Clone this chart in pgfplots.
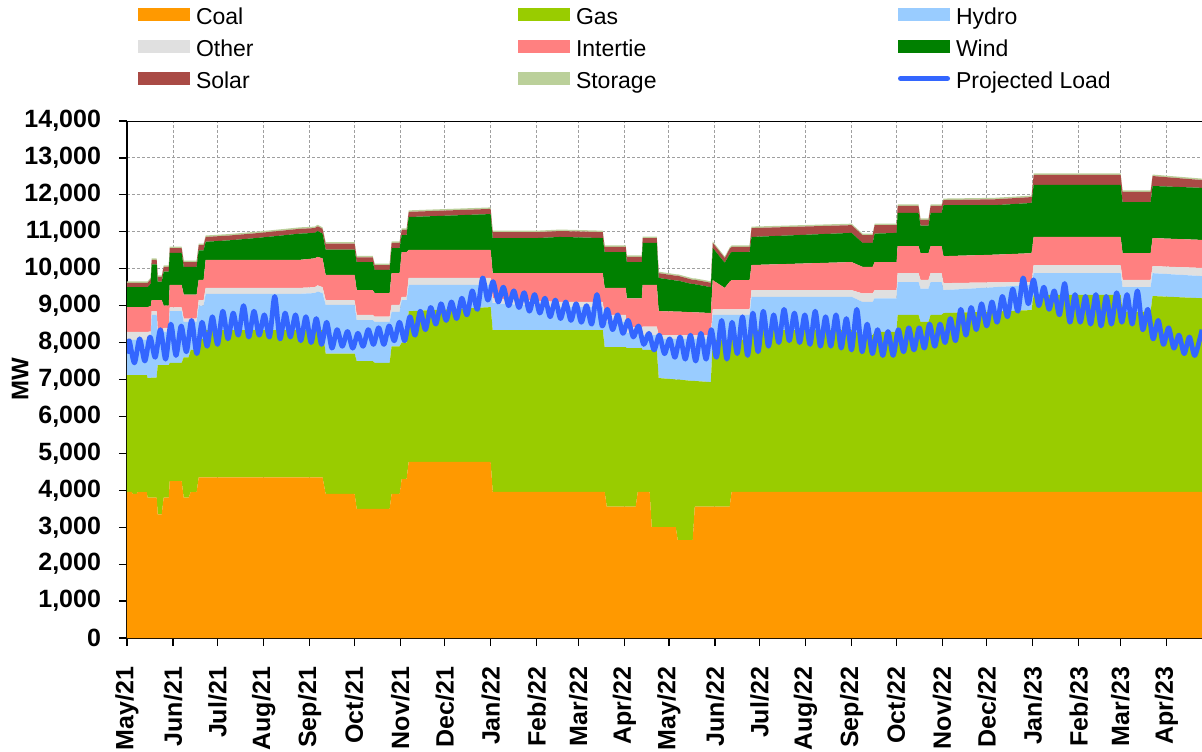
\documentclass[border=0pt]{standalone}
\usepackage{fontspec}
\setmainfont{Liberation Sans}
\usepackage{pgfplots}
\usepackage{pgfplotstable}
\pgfplotsset{compat=1.18}

\definecolor{coal}{HTML}{FF9900}
\definecolor{gas}{HTML}{99CC00}
\definecolor{hydro}{HTML}{99CCFF}
\definecolor{other}{HTML}{E0E0E0}
\definecolor{intertie}{HTML}{FF8080}
\definecolor{wind}{HTML}{008000}
\definecolor{solar}{HTML}{A94A45}
\definecolor{storage}{HTML}{BBD09A}
\definecolor{load}{HTML}{3366FF}

% cumulative tops of the stacked layers (MW), day 0 = 1 May 2021
\pgfplotstableread{
d     C    G    H    O     I     W     S     St
0.0   3960 7120 8070 8290  8960  9500  9620  40
3.2   3960 7120 8070 8290  8960  9500  9620  40
3.8   3900 7120 8070 8290  8960  9500  9620  40
6.5   3900 7120 8070 8290  8960  9500  9620  40
7.2   3950 7120 8070 8290  8960  9500  9620  40
13.3  3950 7120 8070 8290  8960  9500  9620  40
13.9  3800 7040 8070 8290  8960  9500  9620  40
16.0  3800 7040 8100 8300  8990  9600  9720  40
16.6  3800 7050 8750 8850  9150  10120 10240 40
20.0  3800 7050 8750 8850  9150  10120 10240 40
20.7  3350 7390 8260 8340  9150  9650  9780  40
23.4  3350 7390 8260 8340  9150  9650  9780  40
24.7  3800 7390 8300 8400  9000  9920  10050 40
28.1  3800 7390 8300 8400  9000  9920  10050 40
28.8  4250 7450 8850 8950  9560  10430 10560 40
36.8  4250 7450 8850 8950  9560  10430 10560 40
38.2  3800 7600 8560 8650  9300  10050 10180 40
41.5  3800 7600 8560 8650  9300  10050 10180 40
42.9  3950 7800 8560 8650  9300  10050 10180 40
46.9  3950 7800 8560 8650  9300  10050 10180 40
48.3  4350 8100 9000 9150  9700  10500 10640 40
51.6  4350 8100 9000 9150  9700  10500 10640 40
53.0  4350 8340 9320 9480  10240 10730 10860 40
69.2  4350 8340 9320 9480  10240 10770 10900 40
89.4  4350 8340 9320 9480  10240 10840 10970 40
116.3 4350 8340 9320 9480  10240 10950 11080 40
126.4 4350 8340 9340 9500  10280 10970 11100 40
128.4 4350 8340 9380 9550  10320 11020 11150 40
131.7 4350 8340 9340 9500  10280 10950 11080 40
133.8 3900 7700 9020 9150  9830  10520 10680 40
153.3 3900 7700 9020 9150  9830  10520 10680 40
154.7 3500 7500 8610 8750  9420  10180 10310 40
165.5 3500 7500 8610 8750  9420  10180 10310 40
166.8 3500 7450 8560 8700  9340  9970  10100 40
176.9 3500 7450 8560 8700  9340  9970  10100 40
178.2 3900 7900 8830 9020  9880  10560 10700 40
183.6 3900 7900 8830 9020  9880  10560 10700 40
185.0 4300 8000 9150 9240  10450 10910 11050 40
188.3 4300 8000 9150 9240  10450 10910 11050 40
189.7 4770 8850 9560 9750  10510 11400 11540 40
217.3 4770 8900 9560 9750  10510 11440 11580 40
244.9 4770 8960 9560 9750  10510 11480 11620 40
246.3 3960 8340 9070 9200  9880  10830 10990 40
275.9 3960 8340 9000 9130  9880  10830 10990 40
291.4 3960 8340 8960 9100  9880  10860 11020 40
302.9 3960 8340 8960 9100  9880  10850 11010 40
320.4 3960 8340 8960 9100  9880  10830 10990 40
321.7 3960 7880 8560 8750  9480  10450 10590 40
323.1 3560 7880 8560 8750  9480  10450 10590 40
335.9 3560 7880 8560 8750  9480  10450 10590 40
336.6 3560 7850 8260 8420  9200  10180 10320 40
342.6 3560 7850 8260 8420  9200  10180 10320 40
344.0 3960 7850 8260 8420  9200  10180 10320 40
346.7 3960 7850 8260 8420  9200  10180 10320 40
347.3 3960 7800 8200 8430  9560  10700 10830 40
352.0 3960 7800 8200 8430  9560  10700 10830 40
353.4 3000 7800 8200 8430  9560  10700 10830 40
356.8 3000 7800 8200 8430  9560  10700 10830 40
358.1 3000 7040 8100 8200  8850  9750  9880  40
369.6 3000 7000 8100 8200  8840  9680  9810  40
370.9 2650 7000 8100 8200  8840  9680  9810  40
381.0 2650 6960 8100 8200  8820  9580  9700  40
382.4 3560 6960 8100 8200  8820  9580  9700  40
393.2 3560 6930 8100 8200  8800  9500  9620  40
394.5 3560 8070 8750 8900  9690  10560 10700 40
402.6 3560 8070 8750 8900  9480  10160 10290 40
405.9 3560 8070 8750 8900  9650  10400 10540 40
407.2 3960 8070 8750 8900  9690  10450 10590 40
419.3 3960 8070 8750 8900  9690  10450 10590 40
420.6 3960 8340 9240 9420  10100 10860 11100 40
488.0 3960 8340 9240 9420  10180 10970 11180 40
495.4 3960 8200 9100 9330  10050 10700 10910 40
502.2 3960 8200 9100 9330  10050 10700 10910 40
503.5 3960 8290 9200 9420  10180 10950 11180 40
518.3 3960 8290 9200 9420  10180 10970 11180 40
519.0 3960 8750 9640 9880  10610 11510 11700 40
533.1 3960 8750 9640 9880  10610 11510 11700 40
534.4 3960 8560 9460 9700  10420 11170 11320 40
539.8 3960 8560 9460 9700  10420 11170 11320 40
541.2 3960 8750 9640 9880  10610 11510 11700 40
548.6 3960 8750 9640 9880  10610 11510 11700 40
549.9 3960 8800 9420 9610  10340 11725 11860 40
584.3 3960 8840 9500 9630  10380 11720 11880 40
609.2 3960 8880 9560 9640  10420 11780 11940 40
610.6 3960 9290 9880 10100 10860 12270 12540 40
669.2 3960 9290 9880 10100 10860 12270 12540 40
670.5 3960 8840 9500 9700  10420 11800 12080 40
689.4 3960 8840 9500 9700  10420 11800 12080 40
690.7 3960 9260 9880 10070 10830 12240 12510 40
724.0 3960 9200 9800 10020 10780 12190 12400 40
}\gen

% projected load (MW)
\pgfplotstableread{
d L
0 7700
1.5 8050
5 7450
8.5 8100
12 7500
15.5 8150
19 7600
22.5 8350
26 7550
29.5 8500
33 7650
36.5 8450
40 7750
43.5 8600
47 7700
50.5 8550
54 7900
57.5 8700
61 7950
64.5 8850
68 8100
71.5 8800
75 8200
78.5 9000
82 8150
85.5 8850
89 8200
92.5 8750
96 8150
99.5 9250
103 8100
106.5 8800
110 8150
113.5 8750
117 8050
120.5 8700
124 8000
127.5 8650
131 7950
134.5 8550
138 7850
141.5 8350
145 7900
148.5 8300
152 7850
155.5 8250
159 7900
162.5 8350
166 7950
169.5 8400
173 7950
176.5 8450
180 8050
183.5 8550
187 8050
190.5 8700
194 8200
197.5 8850
201 8350
204.5 8950
208 8500
211.5 9050
215 8600
218.5 9100
222 8650
225.5 9200
229 8750
232.5 9400
236 8900
239.5 9750
243 9150
246.5 9650
250 9100
253.5 9500
257 9000
260.5 9400
264 8950
267.5 9350
271 8850
274.5 9300
278 8800
281.5 9200
285 8700
288.5 9150
292 8650
295.5 9100
299 8600
302.5 9050
306 8550
309.5 9000
313 8500
316.5 9300
320 8450
323.5 8900
327 8350
330.5 8750
334 8250
337.5 8600
341 8150
344.5 8450
348 7950
351.5 8250
355 7800
358.5 8200
362 7700
365.5 8100
369 7600
372.5 8150
376 7550
379.5 8200
383 7500
386.5 8250
390 7550
393.5 8350
397 7600
400.5 8600
404 7550
407.5 8550
411 7700
414.5 8700
418 7650
421.5 8800
425 7750
428.5 8850
432 7900
435.5 8750
439 8000
442.5 8900
446 8050
449.5 8800
453 8000
456.5 8750
460 7950
463.5 8850
467 7900
470.5 8700
474 7900
477.5 8750
481 7850
484.5 8650
488 7800
491.5 8900
495 7750
498.5 8500
502 7700
505.5 8350
509 7650
512.5 8300
516 7650
519.5 8350
523 7750
526.5 8400
530 7800
533.5 8400
537 7850
540.5 8500
544 7900
547.5 8500
551 8000
554.5 8650
558 8050
561.5 8900
565 8200
568.5 8950
572 8350
575.5 9050
579 8450
582.5 9100
586 8550
589.5 9250
593 8700
596.5 9450
600 8850
603.5 9750
607 9050
610.5 9700
614 9000
617.5 9500
621 8900
624.5 9400
628 8750
631.5 9600
635 8550
638.5 9300
642 8550
645.5 9250
649 8500
652.5 9300
656 8450
659.5 9250
663 8500
666.5 9350
670 8550
673.5 9300
677 8500
680.5 9400
684 8350
687.5 8900
691 8100
694.5 8600
698 7950
701.5 8400
705 7850
708.5 8200
712 7700
715.5 8150
719 7650
722.5 8100
724 8350
}\load

\pgfplotsset{
  areaimg/.style={legend image code/.code={\fill (0pt,-1.1pt) rectangle (26pt,5.4pt);}},
}

\begin{document}
\begin{tikzpicture}
\begin{axis}[
  name=ax,
  scale only axis, width=537.5pt, height=258.5pt,
  xmin=0, xmax=724, ymin=0, ymax=14000,
  stack plots=y,
  axis x line*=bottom, axis y line*=left,
  axis line style={black, line width=0.75pt},
  tick align=outside, major tick length=4pt,
  tick style={black, line width=0.6pt},
  xtick={0,31,61,92,123,153,184,214,245,276,304,335,365,396,426,457,488,518,549,579,610,641,669,700},
  xticklabels={May/21,Jun/21,Jul/21,Aug/21,Sep/21,Oct/21,Nov/21,Dec/21,Jan/22,Feb/22,Mar/22,Apr/22,May/22,Jun/22,Jul/22,Aug/22,Sep/22,Oct/22,Nov/22,Dec/22,Jan/23,Feb/23,Mar/23,Apr/23},
  ytick={0,1000,...,14000},
  scaled y ticks=false,
  grid=major,
  major grid style={gray!75, line width=0.5pt, dash pattern=on 1.5pt off 1pt},
  ticklabel style={font=\fontsize{12.5}{15}\selectfont\bfseries},
  xticklabel style={rotate=90, anchor=east},
  xticklabel shift=7pt,
  yticklabel shift=5.5pt,
  /pgf/number format/assume math mode=true,
  yticklabel style={/pgf/number format/1000 sep={,}},
  ylabel={MW},
  ylabel style={font=\fontsize{12}{14}\selectfont\bfseries, at={(axis description cs:0,0.5)}, anchor=center, yshift=53.5pt},
  legend columns=3,
  legend cell align=left,
  legend style={at={(0,1)}, anchor=north west, xshift=5.5pt, yshift=56.6pt,
    draw=none, fill=none, inner sep=0pt, outer sep=0pt, row sep=5pt, column sep=0pt,
    font=\fontsize{11.5}{13}\selectfont,
    nodes={inner sep=0pt, text height=8.5pt, text depth=2.5pt}},
]
\addplot[fill=coal, draw=none, areaimg] table[x=d, y=C] {\gen} \closedcycle;
\addlegendentry{\makebox[164pt][l]{\hspace{3pt}Coal}}
\addplot[fill=gas, draw=none, areaimg] table[x=d, y expr=\thisrow{G}-\thisrow{C}] {\gen} \closedcycle;
\addlegendentry{\makebox[164pt][l]{\hspace{3pt}Gas}}
\addplot[fill=hydro, draw=none, areaimg] table[x=d, y expr=\thisrow{H}-\thisrow{G}] {\gen} \closedcycle;
\addlegendentry{\makebox[110pt][l]{\hspace{3pt}Hydro}}
\addplot[fill=other, draw=none, areaimg] table[x=d, y expr=\thisrow{O}-\thisrow{H}] {\gen} \closedcycle;
\addlegendentry{\makebox[164pt][l]{\hspace{3pt}Other}}
\addplot[fill=intertie, draw=none, areaimg] table[x=d, y expr=\thisrow{I}-\thisrow{O}] {\gen} \closedcycle;
\addlegendentry{\makebox[164pt][l]{\hspace{3pt}Intertie}}
\addplot[fill=wind, draw=none, areaimg] table[x=d, y expr=\thisrow{W}-\thisrow{I}] {\gen} \closedcycle;
\addlegendentry{\makebox[110pt][l]{\hspace{3pt}Wind}}
\addplot[fill=solar, draw=none, areaimg] table[x=d, y expr=\thisrow{S}-\thisrow{W}] {\gen} \closedcycle;
\addlegendentry{\makebox[164pt][l]{\hspace{3pt}Solar}}
\addplot[fill=storage, draw=none, areaimg] table[x=d, y=St] {\gen} \closedcycle;
\addlegendentry{\makebox[164pt][l]{\hspace{3pt}Storage}}
\addlegendimage{draw=load, line width=2.4pt,
  legend image code/.code={\draw[line cap=round] (1.2pt,2.15pt) -- (24.8pt,2.15pt);}}
\addlegendentry{\makebox[110pt][l]{\hspace{3pt}Projected Load}}
\draw[black, line width=0.75pt] (rel axis cs:0,1) -- (rel axis cs:1,1);
\end{axis}
\begin{axis}[
  at={(ax.south west)}, anchor=south west,
  scale only axis, width=537.5pt, height=258.5pt,
  xmin=0, xmax=724, ymin=0, ymax=14000,
  hide axis,
]
\addplot[draw=load, line width=2.4pt, smooth, line join=round] table[x=d, y=L] {\load};
\end{axis}
\pgfresetboundingbox
\path[use as bounding box] ([xshift=-63.5pt,yshift=-56.5pt]ax.south west) rectangle ([yshift=60.5pt]ax.north east);
\end{tikzpicture}
\end{document}
